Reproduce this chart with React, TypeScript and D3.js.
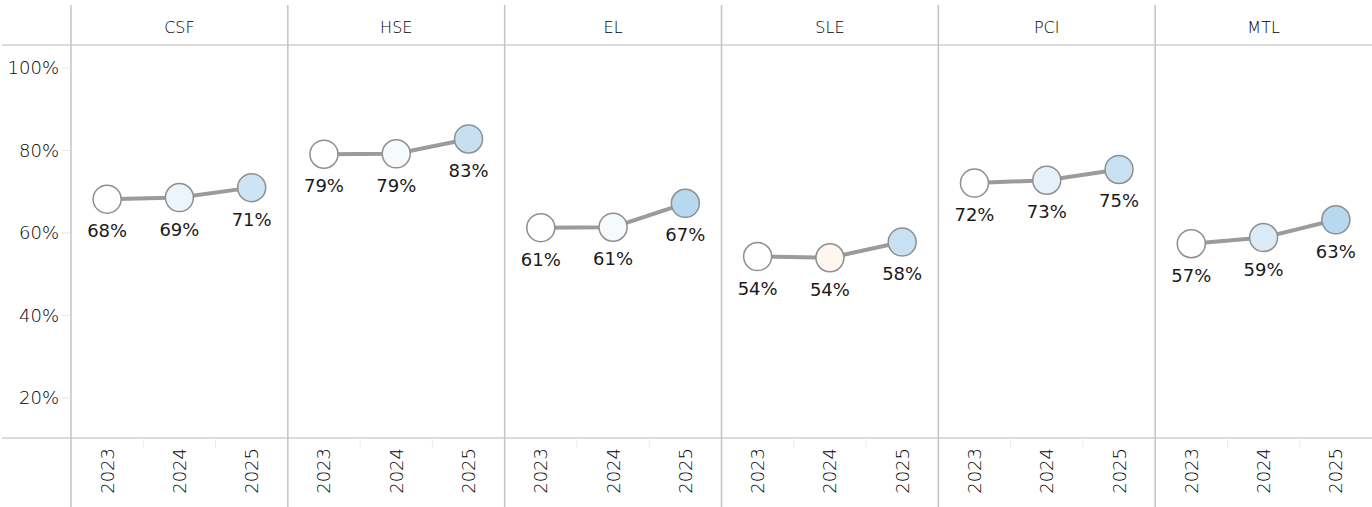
import * as d3 from 'd3';
import React, { useRef, useEffect } from 'react';

const width = 1372;
const height = 507;

const categories = ["CSF", "HSE", "EL", "SLE", "PCI", "MTL"];
const years = ["2023", "2024", "2025"];
const values2023 = [68.2, 79.1, 61.3, 54.3, 72.1, 57.4];
const values2024 = [68.6, 79.2, 61.4, 54.0, 72.8, 58.9];
const values2025 = [71.0, 82.8, 67.2, 57.8, 75.4, 63.2];
const yTicks = [20, 40, 60, 80, 100];

const FONT = "'DejaVu Sans', Verdana, sans-serif";

function Chart() {
    const ref = useRef<SVGSVGElement>(null);

    useEffect(() => {
        const svg = d3.select(ref.current);
        svg.selectAll("*").remove();

        const left = 71;
        const headerY = 45;
        const axisY = 438;

        const panel = d3.scaleBand<string>()
            .domain(categories)
            .range([left, width])
            .padding(0);

        const x = d3.scaleBand<string>()
            .domain(years)
            .range([0, panel.bandwidth()])
            .padding(0);

        const y = d3.scaleLinear()
            .domain([20, 100])
            .range([398, 68]);

        // change vs 2023 -> fill colour
        const color = d3.scaleSqrt<string>()
            .domain([-3, 0, 6.5])
            .range(["#fde6d0", "#ffffff", "#b3d6ee"])
            .clamp(true);

        const grid = svg.append("g");

        // header and axis horizontal lines
        grid.append("line")
            .attr("x1", 2).attr("x2", width)
            .attr("y1", headerY).attr("y2", headerY)
            .attr("stroke", "#cfcfcf").attr("stroke-width", 1.5);
        grid.append("line")
            .attr("x1", 2).attr("x2", width)
            .attr("y1", axisY).attr("y2", axisY)
            .attr("stroke", "#cfcfcf").attr("stroke-width", 1.5);

        // panel separators
        grid.selectAll("line.sep")
            .data(categories)
            .join("line")
            .attr("class", "sep")
            .attr("x1", d => panel(d)!)
            .attr("x2", d => panel(d)!)
            .attr("y1", 5)
            .attr("y2", height)
            .attr("stroke", "#c4c4c4")
            .attr("stroke-width", 1.5);

        // y axis ticks + labels
        const yAxis = svg.append("g");
        yAxis.selectAll("line")
            .data(yTicks)
            .join("line")
            .attr("x1", 62).attr("x2", left - 1)
            .attr("y1", d => y(d)).attr("y2", d => y(d))
            .attr("stroke", "#e6e6e6");
        yAxis.selectAll("text")
            .data(yTicks)
            .join("text")
            .attr("x", 59)
            .attr("y", d => y(d))
            .attr("dy", "0.36em")
            .attr("text-anchor", "end")
            .style("font-family", FONT)
            .style("font-size", "18px")
            .style("font-weight", 200)
            .attr("fill", "#000")
            .text(d => d + "%");

        categories.forEach((cat, i) => {
            const g = svg.append("g").attr("transform", `translate(${panel(cat)},0)`);
            const pts = [values2023[i], values2024[i], values2025[i]].map((v, j) => ({
                year: years[j],
                value: v,
                change: v - values2023[i]
            }));

            // header
            g.append("text")
                .attr("x", panel.bandwidth() / 2)
                .attr("y", 33)
                .attr("text-anchor", "middle")
                .style("font-family", FONT)
                .style("font-size", "16px")
                .style("font-weight", 200)
                .attr("fill", "#000")
                .text(cat);

            // year separators on x axis
            g.selectAll("line.yt")
                .data(years.slice(1))
                .join("line")
                .attr("class", "yt")
                .attr("x1", d => x(d)!)
                .attr("x2", d => x(d)!)
                .attr("y1", axisY)
                .attr("y2", axisY + 10)
                .attr("stroke", "#ececec");

            // year labels
            g.selectAll("text.yr")
                .data(years)
                .join("text")
                .attr("class", "yr")
                .attr("transform", d => `translate(${x(d)! + x.bandwidth() / 2},448) rotate(-90)`)
                .attr("dy", "0.36em")
                .attr("text-anchor", "end")
                .style("font-family", FONT)
                .style("font-size", "18px")
                .style("font-weight", 200)
                .attr("fill", "#000")
                .text(d => d);

            const line = d3.line<{ year: string, value: number }>()
                .x(d => x(d.year)! + x.bandwidth() / 2)
                .y(d => y(d.value));

            g.append("path")
                .datum(pts)
                .attr("d", line)
                .attr("fill", "none")
                .attr("stroke", "#9b9b9b")
                .attr("stroke-width", 4);

            g.selectAll("circle")
                .data(pts)
                .join("circle")
                .attr("cx", d => x(d.year)! + x.bandwidth() / 2)
                .attr("cy", d => y(d.value))
                .attr("r", 14)
                .attr("fill", d => color(d.change))
                .attr("stroke", "#8f8f8f")
                .attr("stroke-width", 1.5);

            g.selectAll("text.lbl")
                .data(pts)
                .join("text")
                .attr("class", "lbl")
                .attr("x", d => x(d.year)! + x.bandwidth() / 2)
                .attr("y", d => y(d.value) + 38)
                .attr("text-anchor", "middle")
                .style("font-family", FONT)
                .style("font-size", "18px")
                .attr("fill", "#1a1a1a")
                .text(d => Math.round(d.value) + "%");
        });
    }, []);

    return (
        <svg ref={ref} width={width} height={height}
            style={{ position: "absolute", left: 0, top: 0, background: "#fff" }} />
    );
}

export default function App() {
    return <Chart />;
}
